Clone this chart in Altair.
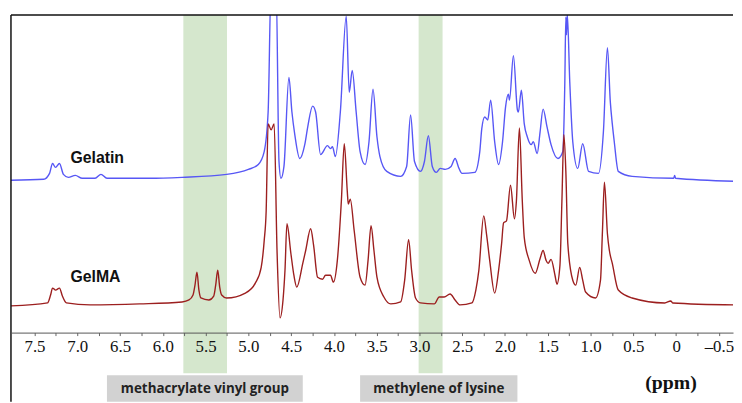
import altair as alt
import pandas as pd

# ---- spectra (ppm, displayed intensity) ----
gelatin_ppm = [7.775, 7.393, 7.324, 7.289, 7.254, 7.208, 7.162, 7.104, 7.023, 6.942,
               6.792, 6.723, 6.653, 6.156, 5.775, 5.254, 5.000, 4.884, 4.815, 4.769,
               4.734, 4.676, 4.642, 4.619, 4.584, 4.526, 4.491, 4.457, 4.399, 4.341,
               4.306, 4.249, 4.214, 4.156, 4.075, 4.040, 4.017, 3.983, 3.925, 3.856,
               3.821, 3.786, 3.740, 3.694, 3.636, 3.590, 3.543, 3.497, 3.462, 3.382,
               3.220, 3.150, 3.104, 3.058, 2.988, 2.942, 2.896, 2.850, 2.803, 2.757,
               2.699, 2.630, 2.584, 2.538, 2.503, 2.353, 2.295, 2.272, 2.237, 2.202,
               2.168, 2.121, 2.075, 2.029, 1.994, 1.960, 1.948, 1.902, 1.855, 1.844,
               1.809, 1.775, 1.740, 1.694, 1.670, 1.624, 1.590, 1.555, 1.509, 1.462,
               1.381, 1.324, 1.301, 1.289, 1.281, 1.272, 1.243, 1.208, 1.150, 1.092,
               1.023, 0.907, 0.850, 0.803, 0.769, 0.746, 0.723, 0.676, 0.514, 0.029,
               0.017, 0.006, -0.688]
gelatin_int = [154, 155, 161, 171, 167, 171, 160, 157, 159, 156,
               156, 160, 156, 156, 157, 160, 165, 170, 183, 223,
               353, 353, 173, 156, 168, 258, 223, 200, 176, 190,
               208, 229, 223, 180, 189, 186, 188, 178, 223, 320,
               243, 265, 223, 183, 170, 193, 246, 198, 178, 163,
               158, 168, 220, 173, 163, 173, 199, 168, 162, 166,
               165, 168, 176, 166, 161, 162, 183, 206, 218, 215,
               235, 193, 170, 193, 228, 241, 235, 280, 225, 223,
               245, 211, 198, 190, 193, 181, 203, 226, 208, 190,
               176, 183, 253, 319, 301, 322, 253, 193, 166, 191,
               163, 161, 203, 288, 233, 211, 193, 163, 158, 156,
               159, 156, 153]

gelma_ppm = [7.775, 7.347, 7.312, 7.289, 7.254, 7.208, 7.174, 7.127, 6.850, 6.272,
             5.775, 5.694, 5.647, 5.624, 5.601, 5.578, 5.555, 5.462, 5.405, 5.382,
             5.358, 5.335, 5.312, 5.254, 5.035, 4.919, 4.850, 4.815, 4.792, 4.769,
             4.734, 4.699, 4.665, 4.630, 4.595, 4.572, 4.549, 4.503, 4.468, 4.434,
             4.364, 4.330, 4.272, 4.237, 4.191, 4.133, 4.098, 4.040, 4.006, 3.960,
             3.913, 3.879, 3.844, 3.832, 3.809, 3.763, 3.694, 3.636, 3.601, 3.566,
             3.532, 3.497, 3.416, 3.335, 3.220, 3.173, 3.127, 3.092, 3.046, 2.988,
             2.827, 2.769, 2.711, 2.642, 2.584, 2.526, 2.387, 2.341, 2.306, 2.249,
             2.214, 2.179, 2.121, 2.075, 2.040, 2.017, 1.983, 1.936, 1.890, 1.867,
             1.832, 1.798, 1.775, 1.717, 1.647, 1.590, 1.555, 1.520, 1.497, 1.462,
             1.416, 1.393, 1.358, 1.335, 1.312, 1.289, 1.266, 1.208, 1.173, 1.127,
             1.092, 1.058, 0.942, 0.884, 0.861, 0.838, 0.803, 0.780, 0.746, 0.676,
             0.514, 0.133, 0.063, 0.040, -0.688]
gelma_int = [27, 30, 38, 45, 43, 45, 37, 30, 28, 29,
             31, 33, 38, 48, 61, 43, 35, 33, 37, 48,
             63, 46, 38, 35, 40, 50, 66, 93, 123, 211,
             205, 211, 83, 15, 33, 63, 110, 80, 58, 46,
             70, 83, 105, 88, 56, 54, 58, 58, 51, 73,
             133, 191, 143, 130, 135, 103, 56, 48, 73, 108,
             83, 56, 36, 29, 31, 53, 94, 63, 35, 30,
             29, 36, 36, 39, 33, 28, 30, 43, 63, 118,
             98, 73, 40, 63, 90, 111, 113, 149, 115, 133,
             207, 133, 96, 73, 60, 75, 83, 73, 70, 74,
             58, 49, 68, 133, 200, 163, 90, 53, 48, 66,
             53, 41, 35, 53, 103, 152, 100, 83, 70, 43,
             35, 30, 32, 30, 28]

trace_names = ["Gelatin", "GelMA"]
trace_colors = ["#5757f5", "#9c1f1f"]
trace_label_ppm = [7.08, 7.08]
trace_label_int = [176, 56]

band_start = [5.76, 3.01]
band_end = [5.25, 2.73]

box_labels = ["methacrylate vinyl group", "methylene of lysine"]
box_start = [6.653, 3.694]
box_end = [4.364, 1.855]

tick_values = [7.5, 7.25, 7.0, 6.75, 6.5, 6.25, 6.0, 5.75, 5.5, 5.25, 5.0, 4.75,
               4.5, 4.25, 4.0, 3.75, 3.5, 3.25, 3.0, 2.75, 2.5, 2.25, 2.0, 1.75,
               1.5, 1.25, 1.0, 0.75, 0.5, 0.25, 0.0, -0.25, -0.5]

# ---- tables ----
lines_df = pd.concat([
    pd.DataFrame({"ppm": gelatin_ppm, "intensity": gelatin_int, "series": "Gelatin"}),
    pd.DataFrame({"ppm": gelma_ppm, "intensity": gelma_int, "series": "GelMA"}),
], ignore_index=True)
bands_df = pd.DataFrame({"ppm": band_start, "end": band_end})
boxes_df = pd.DataFrame({"label": box_labels, "ppm": box_start, "end": box_end})
boxes_df["mid"] = (boxes_df["ppm"] + boxes_df["end"]) / 2
names_df = pd.DataFrame({"name": trace_names, "ppm": trace_label_ppm, "intensity": trace_label_int})
ppm_df = pd.DataFrame({"t": ["(ppm)"], "ppm": [0.06]})

W, H = 730, 321
xs = alt.Scale(domain=[7.775, -0.665], nice=False, zero=False)
ys = alt.Scale(domain=[0, 321], nice=False, zero=False)

label_expr = ("abs(datum.value*2 - round(datum.value*2)) > 0.01 ? '' : "
              "(datum.value == 0 ? '0' : (datum.value < 0 ? '\u2013' + format(-datum.value, '.1f') "
              ": format(datum.value, '.1f')))")

x_axis = alt.Axis(orient="bottom", values=tick_values, labelExpr=label_expr,
                  labelFont="Liberation Serif", labelFontSize=17, labelColor="#111111",
                  tickColor="#666666", tickSize=3, domainColor="#555555", domainWidth=1,
                  labelPadding=3, grid=False, title=None, labelOverlap=False,
                  labelFlush=False, zindex=1)


def X(field):
    return alt.X(field, scale=xs, axis=x_axis, title=None)


bands = alt.Chart(bands_df).mark_rect(color="#d5e7cd").encode(
    x=X("ppm:Q"), x2="end:Q",
    y=alt.value(0), y2=alt.value(362),
)

lines = alt.Chart(lines_df).mark_line(strokeWidth=1.4, clip=True, interpolate="monotone").encode(
    x=X("ppm:Q"),
    y=alt.Y("intensity:Q", scale=ys, axis=None),
    color=alt.Color("series:N", scale=alt.Scale(domain=trace_names, range=trace_colors), legend=None),
    detail="series:N",
)

names = alt.Chart(names_df).mark_text(font="Liberation Sans", fontWeight="bold", fontSize=16,
                                      align="left", baseline="middle", color="#111111").encode(
    x=X("ppm:Q"),
    y=alt.Y("intensity:Q", scale=ys, axis=None),
    text="name:N",
)

boxes = alt.Chart(boxes_df).mark_rect(color="#d2d2d2").encode(
    x=X("ppm:Q"), x2="end:Q",
    y=alt.value(364), y2=alt.value(391),
)

box_text = alt.Chart(boxes_df).mark_text(font="Open Sans", fontWeight="bold", fontSize=13.5,
                                         color="#222222", baseline="middle").encode(
    x=alt.X("mid:Q", scale=xs, axis=x_axis, title=None),
    y=alt.value(378),
    text="label:N",
)

ppm_text = alt.Chart(ppm_df).mark_text(
    font="Liberation Serif", fontWeight="bold", fontSize=20, color="#111111", baseline="middle"
).encode(x=X("ppm:Q"), y=alt.value(372), text="t:N")

left_border = alt.Chart(pd.DataFrame({"a": [0]})).mark_rule(color="#111111", strokeWidth=1.5).encode(
    x=alt.value(0), y=alt.value(0), y2=alt.value(391))
top_border = alt.Chart(pd.DataFrame({"a": [0]})).mark_rule(color="#111111", strokeWidth=1.5).encode(
    x=alt.value(0), x2=alt.value(W), y=alt.value(0))

chart = alt.layer(bands, boxes, lines, names, box_text, ppm_text, left_border, top_border).properties(
    width=W, height=H,
    padding={"left": 2, "top": 4, "right": 0, "bottom": 0},
).configure_view(stroke=None)

chart.save("out.html", embed_options={"renderer": "svg", "actions": False})
